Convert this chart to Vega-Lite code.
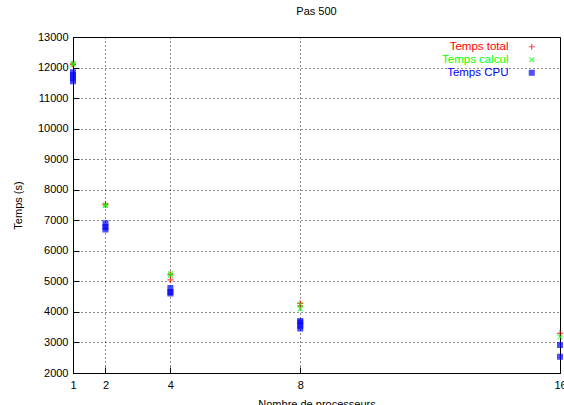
{
  "$schema": "https://vega.github.io/schema/vega-lite/v6.json",
  "width": 487,
  "height": 336,
  "autosize": {"type": "none"},
  "padding": {"left": 73, "top": 37, "right": 4, "bottom": 32},
  "background": "white",
  "title": {"text": "Pas 500", "fontSize": 11, "fontWeight": "normal", "font": "Liberation Sans", "offset": 14, "color": "black"},
  "config": {
    "view": {"stroke": "black", "strokeWidth": 1},
    "axis": {"labelFont": "Liberation Sans", "titleFont": "Liberation Sans", "labelFontSize": 11, "titleFontSize": 11, "titleFontWeight": "normal", "labelColor": "black", "titleColor": "black", "domainColor": "black", "tickColor": "black", "gridColor": "black", "gridDash": [1, 3], "gridOpacity": 0.9, "gridWidth": 1}
  },
  "data": {"values": [
    {"serie": "Temps total", "procs": 1, "temps": 12100},
    {"serie": "Temps total", "procs": 1, "temps": 12120},
    {"serie": "Temps total", "procs": 2, "temps": 7530},
    {"serie": "Temps total", "procs": 2, "temps": 7500},
    {"serie": "Temps total", "procs": 4, "temps": 5050},
    {"serie": "Temps total", "procs": 4, "temps": 5230},
    {"serie": "Temps total", "procs": 8, "temps": 4200},
    {"serie": "Temps total", "procs": 8, "temps": 4280},
    {"serie": "Temps total", "procs": 16, "temps": 3300},
    {"serie": "Temps calcul", "procs": 1, "temps": 12140},
    {"serie": "Temps calcul", "procs": 1, "temps": 12100},
    {"serie": "Temps calcul", "procs": 2, "temps": 7500},
    {"serie": "Temps calcul", "procs": 2, "temps": 7480},
    {"serie": "Temps calcul", "procs": 4, "temps": 5250},
    {"serie": "Temps calcul", "procs": 4, "temps": 5200},
    {"serie": "Temps calcul", "procs": 8, "temps": 4250},
    {"serie": "Temps calcul", "procs": 8, "temps": 4100},
    {"serie": "Temps calcul", "procs": 16, "temps": 3180},
    {"serie": "Temps CPU", "procs": 1, "temps": 11550},
    {"serie": "Temps CPU", "procs": 1, "temps": 11650},
    {"serie": "Temps CPU", "procs": 1, "temps": 11750},
    {"serie": "Temps CPU", "procs": 1, "temps": 11850},
    {"serie": "Temps CPU", "procs": 2, "temps": 6700},
    {"serie": "Temps CPU", "procs": 2, "temps": 6780},
    {"serie": "Temps CPU", "procs": 2, "temps": 6900},
    {"serie": "Temps CPU", "procs": 4, "temps": 4600},
    {"serie": "Temps CPU", "procs": 4, "temps": 4650},
    {"serie": "Temps CPU", "procs": 4, "temps": 4780},
    {"serie": "Temps CPU", "procs": 8, "temps": 3460},
    {"serie": "Temps CPU", "procs": 8, "temps": 3550},
    {"serie": "Temps CPU", "procs": 8, "temps": 3650},
    {"serie": "Temps CPU", "procs": 8, "temps": 3700},
    {"serie": "Temps CPU", "procs": 16, "temps": 2920},
    {"serie": "Temps CPU", "procs": 16, "temps": 2530}
  ]},
  "mark": {"type": "point", "filled": false, "strokeWidth": 1.2, "size": 36, "clip": false},
  "encoding": {
    "x": {"field": "procs", "type": "quantitative", "scale": {"domain": [1, 16], "nice": false, "zero": false},
      "axis": {"values": [1, 2, 4, 8, 16], "title": "Nombre de processeurs", "tickSize": -6, "labelPadding": 12, "titlePadding": 8, "grid": true, "labelFlush": false}},
    "y": {"field": "temps", "type": "quantitative", "scale": {"domain": [2000, 13000], "nice": false, "zero": false},
      "axis": {"values": [2000, 3000, 4000, 5000, 6000, 7000, 8000, 9000, 10000, 11000, 12000, 13000], "title": "Temps (s)", "tickSize": -6, "labelPadding": 11, "titlePadding": 14, "grid": true, "format": "d"}},
    "color": {"field": "serie", "type": "nominal", "sort": ["Temps total", "Temps calcul", "Temps CPU"],
      "scale": {"domain": ["Temps total", "Temps calcul", "Temps CPU"], "range": ["#ff0000", "#00ff00", "#0000ff"]},
      "legend": {"title": null, "orient": "none", "legendX": 453, "legendY": 4, "labelFont": "Liberation Sans", "labelFontSize": 11.5, "labelAlign": "right", "labelOffset": -29, "rowPadding": 0, "symbolSize": 36, "symbolStrokeWidth": 1.2,
        "labelColor": {"expr": "datum.value === 'Temps total' ? '#ff0000' : datum.value === 'Temps calcul' ? '#00ff00' : '#0000ff'"}}},
    "shape": {"field": "serie", "type": "nominal",
      "scale": {"domain": ["Temps total", "Temps calcul", "Temps CPU"], "range": ["M-1,0L1,0M0,-1L0,1", "M-0.8,-0.8L0.8,0.8M-0.8,0.8L0.8,-0.8", "M-1,0L1,0M0,-1L0,1M-0.8,-0.8L0.8,0.8M-0.8,0.8L0.8,-0.8M-0.8,-0.8L0.8,-0.8L0.8,0.8L-0.8,0.8Z"]},
      "legend": null}
  }
}
